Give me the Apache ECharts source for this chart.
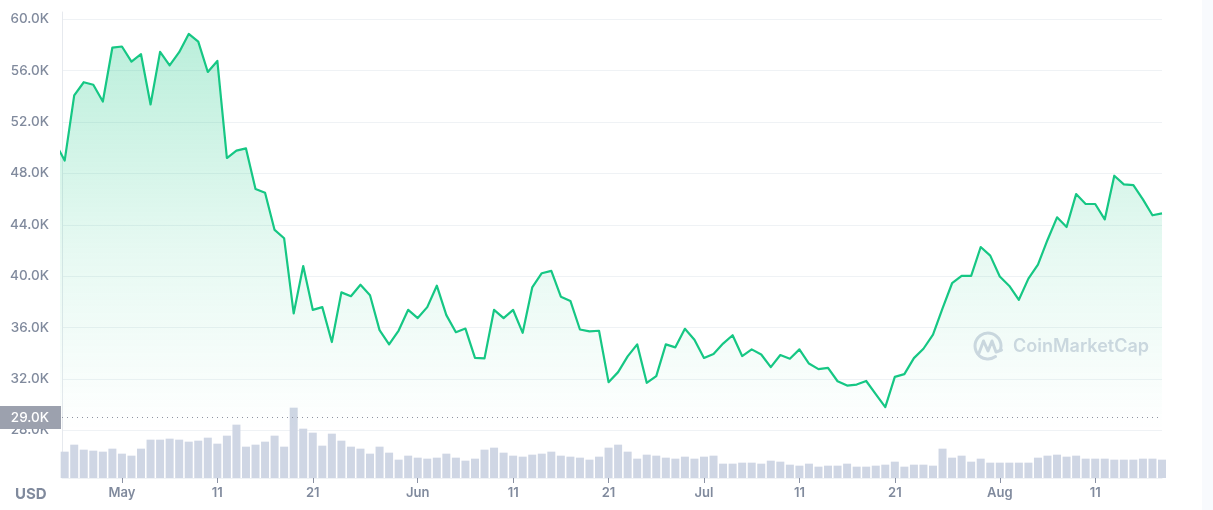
<!DOCTYPE html>
<html>
<head>
<meta charset="utf-8">
<script src="https://cdn.jsdelivr.net/npm/echarts@6/dist/echarts.min.js"></script>
<style>
  html, body { margin: 0; padding: 0; background: #ffffff; }
  #chart { position: absolute; left: 0; top: 0; width: 1213px; height: 510px; }
  #side { position: absolute; left: 1202px; top: 0; width: 11px; height: 510px; background: #F8FAFD; }
</style>
</head>
<body>
<div id="side"></div>
<div id="chart"></div>
<script>
// ---- Data (BTC / USD, daily) ----
const priceStartDate = '2021-04-24';     // first daily price (partly outside the visible window)
const volumeStartDate = '2021-04-25';    // first visible volume bar
const viewStartDay = -6.28;              // visible window start, days relative to 2021-05-01
const viewEndDay = 109;                  // 2021-08-18

const prices = [
  50400, 49000, 54070, 55100, 54900, 53600, 57800,
  57880, 56700, 57280, 53370, 57460, 56420, 57440, 58860, 58260, 55900,
  56760, 49200, 49770, 49950, 46790, 46500, 43600, 42950, 37100, 40790,
  37380, 37590, 34870, 38740, 38440, 39330, 38510, 35800, 34690, 35770, 37380,
  36740, 37590, 39260, 36970, 35640, 35920, 33640, 33600, 37380, 36740,
  37370, 35590, 39120, 40230, 40410, 38400, 38070, 35850, 35700, 35750,
  31750, 32530, 33760, 34690, 31700, 32220, 34690, 34460, 35900, 35050,
  33630, 33940, 34750, 35400, 33780, 34300, 33900, 32920, 33860, 33570,
  34300, 33200, 32760, 32860, 31820, 31480, 31560, 31840, 30820, 29800,
  32160, 32370, 33620, 34350, 35450, 37500, 39450, 40020, 40020, 42270, 41600,
  39970, 39240, 38160, 39810, 40900, 42820, 44580, 43830, 46390, 45620,
  45620, 44420, 47820, 47150, 47090, 45980, 44740, 44890
];

// 24h volume, billions USD (from 2021-04-25)
const volumes = [
  47.4, 60.0, 51.0, 49.2, 47.4, 52.8,
  43.8, 40.2, 52.8, 69.0, 69.0, 70.8, 69.0, 65.4, 67.2, 72.6,
  61.8, 76.2, 96.0, 56.4, 60.0, 65.4, 76.2, 56.4, 126.6, 88.8,
  81.6, 58.2, 79.8, 67.2, 56.4, 52.8, 43.8, 56.4, 45.6, 33.0, 40.2,
  36.6, 34.8, 36.6, 43.8, 36.6, 31.2, 34.8, 51.0, 54.6, 45.6,
  40.2, 38.4, 42.0, 43.8, 47.4, 40.2, 38.4, 36.6, 33.0, 38.4,
  54.6, 60.0, 47.4, 34.8, 42.0, 40.2, 36.6, 34.8, 38.4, 34.8,
  38.4, 40.2, 25.8, 25.8, 27.6, 27.6, 25.8, 31.2, 29.4, 24.0,
  22.2, 25.8, 20.4, 22.2, 22.2, 25.8, 20.4, 20.4, 22.2, 24.0,
  29.4, 20.4, 24.0, 24.0, 22.2, 52.8, 36.6, 40.2, 29.4, 34.8, 27.6,
  27.6, 27.6, 27.6, 27.6, 36.6, 40.2, 42.0, 38.4, 40.2, 34.8,
  34.8, 34.8, 33.0, 33.0, 33.0, 34.8, 34.8, 33.0
];

const tickDates = ['2021-05-01','2021-05-11','2021-05-21','2021-06-01','2021-06-11','2021-06-21',
                   '2021-07-01','2021-07-11','2021-07-21','2021-08-01','2021-08-11'];
const tickLabels = ['May','11','21','Jun','11','21','Jul','11','21','Aug','11'];

const refPrice = 29000;
const refLabel = '29.0K';

// ---- helpers ----
const DAY = 864e5;
const origin = Date.parse('2021-05-01T00:00:00Z');
const toDay = s => (Date.parse(s + 'T00:00:00Z') - origin) / DAY;
const priceData = prices.map((p, i) => [toDay(priceStartDate) + i, p]);
const volData = volumes.map((v, i) => [toDay(volumeStartDate) + i, v]);
const tickDays = tickDates.map(toDay);

const GRAY = '#808A9D';
const FONT = 'Inter, "Noto Sans", sans-serif';

const chart = echarts.init(document.getElementById('chart'), null, { renderer: 'canvas' });

chart.setOption({
  animation: false,
  backgroundColor: 'transparent',
  title: {
    text: 'USD', left: 15, top: 487, padding: 0,
    textStyle: { fontFamily: FONT, fontSize: 15, fontWeight: 'bold', color: GRAY }
  },
  grid: [
    { left: 62, right: 51, top: 19.3, bottom: 79.7 },
    { left: 62, right: 51, top: 12, bottom: 32 }
  ],
  xAxis: [
    { type: 'value', gridIndex: 0, min: viewStartDay, max: viewEndDay, show: false },
    {
      type: 'value', gridIndex: 1, min: viewStartDay, max: viewEndDay,
      axisLine: { show: true, onZero: false, lineStyle: { color: '#EFF2F5', width: 1 } },
      splitLine: { show: false },
      axisTick: { show: true, customValues: tickDays, length: 5, lineStyle: { color: '#8A91A3', width: 1 } },
      axisLabel: {
        show: true, customValues: tickDays, margin: 9,
        fontFamily: FONT, fontSize: 13, fontWeight: 600, color: GRAY,
        formatter: v => { const k = tickDays.indexOf(v); return k >= 0 ? tickLabels[k] : ''; }
      }
    }
  ],
  yAxis: [
    {
      type: 'value', gridIndex: 0, min: 28000, max: 60000, interval: 4000,
      axisLine: { show: false, onZero: false }, axisTick: { show: false },
      splitLine: { show: true, lineStyle: { color: '#EFF2F5', width: 1 } },
      axisLabel: {
        margin: 13, fontFamily: FONT, fontSize: 13.5, fontWeight: 500, color: GRAY,
        formatter: v => (v / 1000).toFixed(1) + 'K'
      }
    },
    {
      type: 'value', gridIndex: 1, min: 0, max: 838.8,
      axisLine: { show: true, onZero: false, lineStyle: { color: '#E6E9EE', width: 1 } },
      axisTick: { show: false }, axisLabel: { show: false }, splitLine: { show: false }
    }
  ],
  graphic: [
    {
      type: 'group', silent: true, z: 1,
      children: [
        { type: 'arc', shape: { cx: 988, cy: 346, r: 13, startAngle: 0.95, endAngle: Math.PI * 2 + 0.25 },
          style: { stroke: '#D3D8E3', lineWidth: 3, fill: null, lineCap: 'round' } },
        { type: 'polyline', shape: { points: [[979, 353], [983.5, 341], [988, 351], [992, 341], [996, 352], [1001.5, 350]] },
          style: { stroke: '#D3D8E3', lineWidth: 3, fill: null, lineJoin: 'round', lineCap: 'round' } },
        { type: 'text', x: 1013, y: 347,
          style: { text: 'CoinMarketCap', fontFamily: FONT, fontSize: 18, fontWeight: 600,
                   fill: '#D3D8E3', verticalAlign: 'middle' } }
      ]
    }
  ],
  series: [
    {
      type: 'bar', xAxisIndex: 1, yAxisIndex: 1, data: volData,
      barWidth: 8, clip: true, z: 1,
      itemStyle: { color: '#CFD6E4' }, silent: true
    },
    {
      type: 'line', xAxisIndex: 0, yAxisIndex: 0, data: priceData,
      showSymbol: false, symbol: 'none', clip: true, z: 3,
      lineStyle: { color: '#16C784', width: 2.2, join: 'round' },
      areaStyle: {
        color: new echarts.graphic.LinearGradient(0, 0, 0, 1, [
          { offset: 0, color: 'rgba(22,199,132,0.42)' },
          { offset: 0.55, color: 'rgba(22,199,132,0.15)' },
          { offset: 1, color: 'rgba(22,199,132,0)' }
        ])
      },
      markLine: {
        silent: true, symbol: 'none', animation: false,
        lineStyle: { type: [1, 4], color: '#8E94A2', width: 1 },
        label: {
          show: true, position: 'start', distance: 1, formatter: refLabel,
          fontFamily: FONT, fontSize: 13.5, fontWeight: 500, color: '#ffffff',
          backgroundColor: '#9CA1AE', padding: [4, 12, 4, 11], lineHeight: 15
        },
        emphasis: { disabled: true },
        data: [{ yAxis: refPrice }]
      }
    }
  ]
});
</script>
</body>
</html>
